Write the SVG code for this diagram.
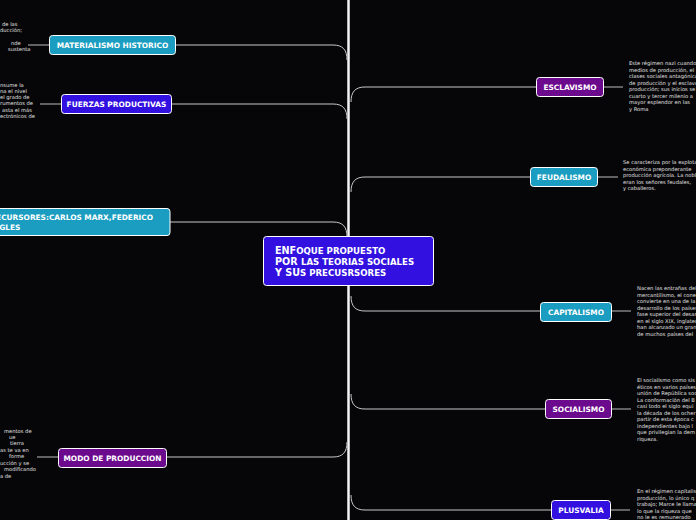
<svg xmlns="http://www.w3.org/2000/svg" width="696" height="520" viewBox="0 0 696 520">
<style>
.node{stroke:#fff;stroke-width:1}
.teal{fill:#1a9dc0}
.purple{fill:#6c0a8e}
.blue{fill:#3110e0}
.lbl{font-family:"DejaVu Sans",Verdana,sans-serif;font-weight:bold;font-size:7.4px;fill:#fff}
.desc{font-family:"DejaVu Sans",Verdana,sans-serif;font-size:5.2px;fill:#e0e0e0}
.conn{fill:none;stroke:#c8c8c8;stroke-width:1}
.dash{stroke:#808080;stroke-width:1.5}
.ctr{font-family:"DejaVu Sans",Verdana,sans-serif;font-weight:bold;fill:#fff}
</style>
<rect x="0" y="0" width="696" height="520" fill="#060608"/>
<g id="connectors">
<line x1="348.5" y1="0" x2="348.5" y2="520" stroke="#f4f4f4" stroke-width="2.5"/>
<path class="conn" d="M175,45 H333 C343,45 347,50 347,60"/>
<path class="conn" d="M172,104 H333 C343,104 347,109 347,119"/>
<path class="conn" d="M170,222 H333 C343,222 347,227 347,237"/>
<path class="conn" d="M167,457 H333 C343,457 347,452 347,442"/>
<path class="conn" d="M536,87 H365 C355,87 351,92 351,102"/>
<path class="conn" d="M530,177 H365 C355,177 351,182 351,192"/>
<path class="conn" d="M540,311 H365 C355,311 351,306 351,296"/>
<path class="conn" d="M545,409 H365 C355,409 351,404 351,394"/>
<path class="conn" d="M551,510 H365 C355,510 351,505 351,495"/>
<line class="dash" x1="28" y1="45" x2="49" y2="45"/>
<line class="dash" x1="40" y1="104" x2="61" y2="104"/>
<line class="dash" x1="37" y1="457" x2="58" y2="457"/>
<line class="dash" x1="603" y1="87" x2="623" y2="87"/>
<line class="dash" x1="597" y1="177" x2="618" y2="177"/>
<line class="dash" x1="611" y1="311" x2="631" y2="311"/>
<line class="dash" x1="611" y1="409" x2="631" y2="409"/>
<line class="dash" x1="610" y1="510" x2="630" y2="510"/>
</g>
<g id="center">
<rect class="node blue" x="263.5" y="236.5" width="170" height="49" rx="3"/>
<text class="ctr" x="275" y="254"><tspan font-size="9.6">ENF</tspan><tspan font-size="8.6">OQUE PROPUESTO</tspan></text>
<text class="ctr" x="275" y="265"><tspan font-size="9.6">POR </tspan><tspan font-size="8.6">LAS TEORIAS SOCIALES</tspan></text>
<text class="ctr" x="275" y="276"><tspan font-size="9.6">Y SU</tspan><tspan font-size="8.6">S PRECUSRSORES</tspan></text>
</g>
<g id="materialismo">
<rect class="node teal" x="49.5" y="35.5" width="126" height="19" rx="3"/>
<text class="lbl" x="112.5" y="48" text-anchor="middle">MATERIALISMO HISTORICO</text>
<text class="desc" x="2" y="26">de las</text>
<text class="desc" x="0" y="32">ducción;</text>
<text class="desc" x="11" y="45">nde</text>
<text class="desc" x="8" y="51">sustenta</text>
</g>
<g id="fuerzas">
<rect class="node blue" x="61.5" y="94.5" width="110" height="19" rx="3"/>
<text class="lbl" x="116.5" y="107" text-anchor="middle">FUERZAS PRODUCTIVAS</text>
<text class="desc" x="0" y="87">nsume la</text>
<text class="desc" x="0" y="93">na el nivel</text>
<text class="desc" x="0" y="99">el grado de</text>
<text class="desc" x="0" y="105">rumentos de</text>
<text class="desc" x="2" y="112">asta el más</text>
<text class="desc" x="0" y="118">ectrónicos de</text>
</g>
<g id="precursores">
<rect class="node teal" x="-6" y="208.5" width="176" height="27" rx="3"/>
<text class="lbl" x="-15" y="220">PRECURSORES:CARLOS MARX,FEDERICO</text>
<text class="lbl" x="-12" y="230">ENGLES</text>
</g>
<g id="modo">
<rect class="node purple" x="58.5" y="448.5" width="108" height="19" rx="3"/>
<text class="lbl" x="112.5" y="461" text-anchor="middle">MODO DE PRODUCCION</text>
<text class="desc" x="4" y="433">mentos de</text>
<text class="desc" x="9" y="439">ue</text>
<text class="desc" x="10" y="445">tierra</text>
<text class="desc" x="0" y="452">as te va en</text>
<text class="desc" x="9" y="458">forme</text>
<text class="desc" x="0" y="465">ucción y se</text>
<text class="desc" x="4" y="471">modificando</text>
<text class="desc" x="0" y="478">a de</text>
</g>
<g id="esclavismo">
<rect class="node purple" x="536.5" y="77.5" width="67" height="19" rx="3"/>
<text class="lbl" x="570" y="90" text-anchor="middle">ESCLAVISMO</text>
<text class="desc" x="629" y="65">Este régimen nazi cuando</text>
<text class="desc" x="629" y="71.5">medios de producción, el</text>
<text class="desc" x="629" y="78">clases sociales antagónicas</text>
<text class="desc" x="629" y="84.5">de producción y el esclavo</text>
<text class="desc" x="629" y="91">producción; sus inicios se</text>
<text class="desc" x="629" y="97.5">cuarto y tercer milenio a</text>
<text class="desc" x="629" y="104">mayor esplendor en las</text>
<text class="desc" x="629" y="110.5">y Roma</text>
</g>
<g id="feudalismo">
<rect class="node teal" x="530.5" y="167.5" width="67" height="19" rx="3"/>
<text class="lbl" x="564" y="180" text-anchor="middle">FEUDALISMO</text>
<text class="desc" x="623" y="164">Se caracteriza por la explotación</text>
<text class="desc" x="623" y="170.5">económica preponderante</text>
<text class="desc" x="623" y="177">producción agrícola. La nobleza</text>
<text class="desc" x="623" y="183.5">eran los señores feudales,</text>
<text class="desc" x="623" y="190">y caballeros.</text>
</g>
<g id="capitalismo">
<rect class="node teal" x="540.5" y="302.5" width="71" height="19" rx="3"/>
<text class="lbl" x="576" y="315" text-anchor="middle">CAPITALISMO</text>
<text class="desc" x="637" y="290">Nacen las entrañas del</text>
<text class="desc" x="637" y="296.5">mercantilismo, el cone</text>
<text class="desc" x="637" y="303">convierte en una de la</text>
<text class="desc" x="637" y="309.5">desarrollo de los países</text>
<text class="desc" x="637" y="316">fase superior del desarr</text>
<text class="desc" x="637" y="322.5">en el siglo XIX, inglaterra</text>
<text class="desc" x="637" y="329">han alcanzado un gran</text>
<text class="desc" x="637" y="335.5">de muchos países del</text>
</g>
<g id="socialismo">
<rect class="node purple" x="545.5" y="399.5" width="66" height="19" rx="3"/>
<text class="lbl" x="578.5" y="412" text-anchor="middle">SOCIALISMO</text>
<text class="desc" x="637" y="382">El socialismo como sis</text>
<text class="desc" x="637" y="388.5">éticos en varios países</text>
<text class="desc" x="637" y="395">unión de República soc</text>
<text class="desc" x="637" y="401.5">La conformación del B</text>
<text class="desc" x="637" y="408">casi todo el siglo equi</text>
<text class="desc" x="637" y="414.5">la década de los ocher</text>
<text class="desc" x="637" y="421">partir de esta época c</text>
<text class="desc" x="637" y="427.5">independientes bajo l</text>
<text class="desc" x="637" y="434">que privilegian la dem</text>
<text class="desc" x="637" y="440.5">riqueza.</text>
</g>
<g id="plusvalia">
<rect class="node blue" x="551.5" y="500.5" width="59" height="19" rx="3"/>
<text class="lbl" x="581" y="513" text-anchor="middle">PLUSVALIA</text>
<text class="desc" x="637" y="493">En el régimen capitalista</text>
<text class="desc" x="637" y="499.5">producción, lo único q</text>
<text class="desc" x="637" y="506">trabajo; Marce le llama</text>
<text class="desc" x="637" y="512.5">lo que la riqueza que</text>
<text class="desc" x="637" y="519">no le es remunerado</text>
</g>
</svg>
